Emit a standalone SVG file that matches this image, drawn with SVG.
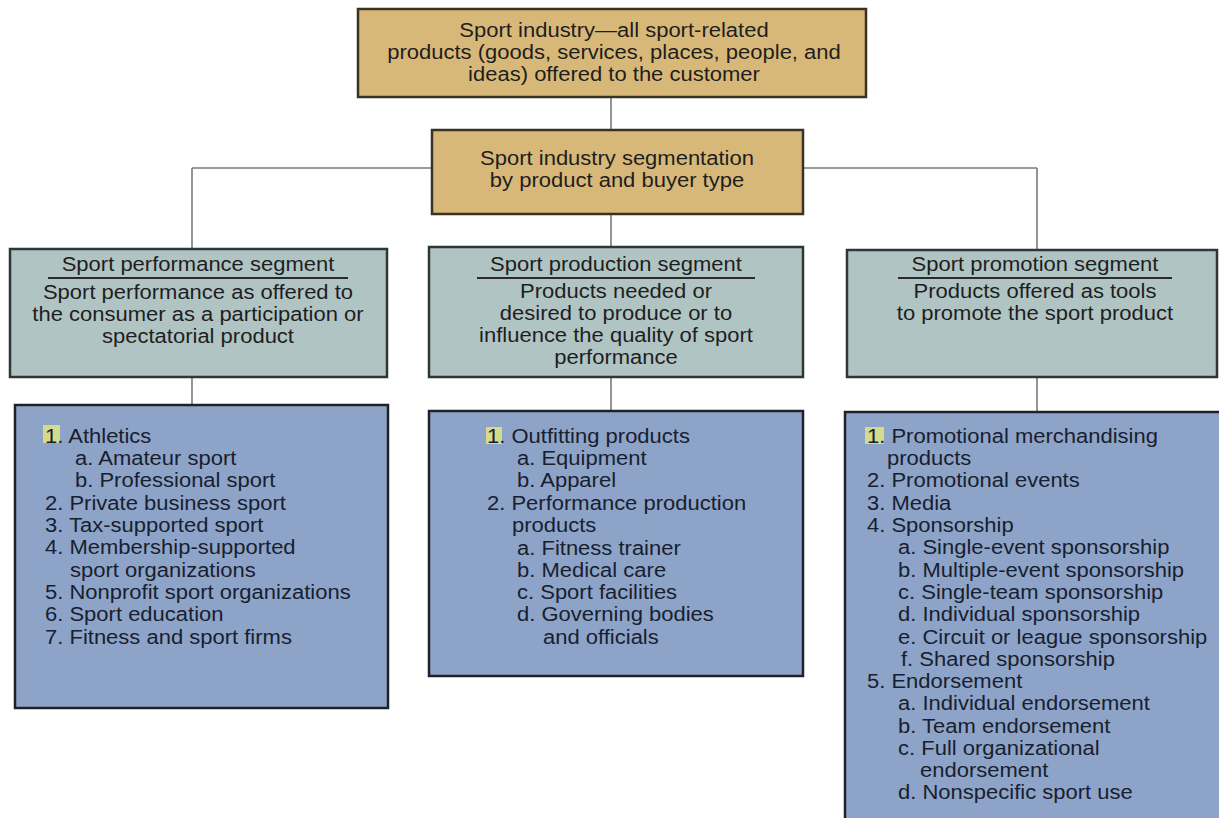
<svg xmlns="http://www.w3.org/2000/svg" width="1219" height="818" viewBox="0 0 1219 818">
<style>
text{font-family:"Liberation Sans",Arial,sans-serif;font-size:19.4px;fill:#1e1e1e}
.c{text-anchor:middle}
.tan{fill:#D8B878;stroke:#3a3226;stroke-width:2.5}
.seg{fill:#B1C4C4;stroke:#2e3636;stroke-width:2.5}
.lst{fill:#8DA4C8;stroke:#1e2228;stroke-width:2.5}
.lt{fill:#18202f}
.hl{fill:#D3DC8C}
.ul{stroke:#2a2a2a;stroke-width:1.8}
.con{stroke:#7a7a7a;stroke-width:1.6;fill:none}
</style>
<rect width="1219" height="818" fill="#ffffff"/>
<g id="connectors">
<line class="con" x1="611" y1="97" x2="611" y2="130"/>
<line class="con" x1="192" y1="168" x2="1037" y2="168"/>
<line class="con" x1="192" y1="168" x2="192" y2="249"/>
<line class="con" x1="611" y1="214" x2="611" y2="247"/>
<line class="con" x1="1037" y1="168" x2="1037" y2="250"/>
<line class="con" x1="192" y1="377" x2="192" y2="405"/>
<line class="con" x1="611" y1="377" x2="611" y2="411"/>
<line class="con" x1="1037" y1="377" x2="1037" y2="412"/>
</g>
<g id="industry">
<rect class="tan" x="358" y="9" width="508" height="88"/>
<text class="c" transform="translate(614 37) scale(1.134 1)">Sport industry—all sport-related</text>
<text class="c" transform="translate(614 59) scale(1.134 1)">products (goods, services, places, people, and</text>
<text class="c" transform="translate(614 81) scale(1.134 1)">ideas) offered to the customer</text>
</g>
<g id="segmentation">
<rect class="tan" x="432" y="130" width="371" height="84"/>
<text class="c" transform="translate(617 165) scale(1.134 1)">Sport industry segmentation</text>
<text class="c" transform="translate(617 187) scale(1.134 1)">by product and buyer type</text>
</g>
<g id="performance">
<rect class="seg" x="10" y="249" width="377" height="128"/>
<text class="c" transform="translate(198 271) scale(1.134 1)">Sport performance segment</text>
<line class="ul" x1="48" y1="278" x2="348" y2="278"/>
<text class="c" transform="translate(198 299) scale(1.134 1)">Sport performance as offered to</text>
<text class="c" transform="translate(198 321) scale(1.134 1)">the consumer as a participation or</text>
<text class="c" transform="translate(198 343) scale(1.134 1)">spectatorial product</text>
</g>
<g id="production">
<rect class="seg" x="429" y="247" width="374" height="130"/>
<text class="c" transform="translate(616 271) scale(1.134 1)">Sport production segment</text>
<line class="ul" x1="477" y1="278" x2="755" y2="278"/>
<text class="c" transform="translate(616 298) scale(1.134 1)">Products needed or</text>
<text class="c" transform="translate(616 320) scale(1.134 1)">desired to produce or to</text>
<text class="c" transform="translate(616 342) scale(1.134 1)">influence the quality of sport</text>
<text class="c" transform="translate(616 364) scale(1.134 1)">performance</text>
</g>
<g id="promotion">
<rect class="seg" x="847" y="250" width="370" height="127"/>
<text class="c" transform="translate(1035 271) scale(1.134 1)">Sport promotion segment</text>
<line class="ul" x1="898" y1="278" x2="1172" y2="278"/>
<text class="c" transform="translate(1035 298) scale(1.134 1)">Products offered as tools</text>
<text class="c" transform="translate(1035 320) scale(1.134 1)">to promote the sport product</text>
</g>
<g id="performance-list">
<rect class="lst" x="15" y="405" width="373" height="303"/>
<rect class="hl" x="43" y="425" width="17" height="18"/>
<text class="lt" transform="translate(45 443) scale(1.134 1)">1. Athletics</text>
<text class="lt" transform="translate(75 465) scale(1.134 1)">a. Amateur sport</text>
<text class="lt" transform="translate(75 487) scale(1.134 1)">b. Professional sport</text>
<text class="lt" transform="translate(45 510) scale(1.134 1)">2. Private business sport</text>
<text class="lt" transform="translate(45 532) scale(1.134 1)">3. Tax-supported sport</text>
<text class="lt" transform="translate(45 554) scale(1.134 1)">4. Membership-supported</text>
<text class="lt" transform="translate(70 577) scale(1.134 1)">sport organizations</text>
<text class="lt" transform="translate(45 599) scale(1.134 1)">5. Nonprofit sport organizations</text>
<text class="lt" transform="translate(45 621) scale(1.134 1)">6. Sport education</text>
<text class="lt" transform="translate(45 644) scale(1.134 1)">7. Fitness and sport firms</text>
</g>
<g id="production-list">
<rect class="lst" x="429" y="411" width="374" height="265"/>
<rect class="hl" x="486" y="427" width="16" height="17"/>
<text class="lt" transform="translate(487 443) scale(1.134 1)">1. Outfitting products</text>
<text class="lt" transform="translate(517 465) scale(1.134 1)">a. Equipment</text>
<text class="lt" transform="translate(517 487) scale(1.134 1)">b. Apparel</text>
<text class="lt" transform="translate(487 510) scale(1.134 1)">2. Performance production</text>
<text class="lt" transform="translate(512 532) scale(1.134 1)">products</text>
<text class="lt" transform="translate(517 555) scale(1.134 1)">a. Fitness trainer</text>
<text class="lt" transform="translate(517 577) scale(1.134 1)">b. Medical care</text>
<text class="lt" transform="translate(517 599) scale(1.134 1)">c. Sport facilities</text>
<text class="lt" transform="translate(517 621) scale(1.134 1)">d. Governing bodies</text>
<text class="lt" transform="translate(543 644) scale(1.134 1)">and officials</text>
</g>
<g id="promotion-list">
<rect class="lst" x="845" y="412" width="380" height="420"/>
<rect class="hl" x="865" y="427" width="19" height="17"/>
<text class="lt" transform="translate(867 443) scale(1.134 1)">1. Promotional merchandising</text>
<text class="lt" transform="translate(887 465) scale(1.134 1)">products</text>
<text class="lt" transform="translate(867 487) scale(1.134 1)">2. Promotional events</text>
<text class="lt" transform="translate(867 510) scale(1.134 1)">3. Media</text>
<text class="lt" transform="translate(867 532) scale(1.134 1)">4. Sponsorship</text>
<text class="lt" transform="translate(898 554) scale(1.134 1)">a. Single-event sponsorship</text>
<text class="lt" transform="translate(898 577) scale(1.134 1)">b. Multiple-event sponsorship</text>
<text class="lt" transform="translate(898 599) scale(1.134 1)">c. Single-team sponsorship</text>
<text class="lt" transform="translate(898 621) scale(1.134 1)">d. Individual sponsorship</text>
<text class="lt" transform="translate(898 644) scale(1.134 1)">e. Circuit or league sponsorship</text>
<text class="lt" transform="translate(901 666) scale(1.134 1)">f. Shared sponsorship</text>
<text class="lt" transform="translate(867 688) scale(1.134 1)">5. Endorsement</text>
<text class="lt" transform="translate(898 710) scale(1.134 1)">a. Individual endorsement</text>
<text class="lt" transform="translate(898 733) scale(1.134 1)">b. Team endorsement</text>
<text class="lt" transform="translate(898 755) scale(1.134 1)">c. Full organizational</text>
<text class="lt" transform="translate(920 777) scale(1.134 1)">endorsement</text>
<text class="lt" transform="translate(898 799) scale(1.134 1)">d. Nonspecific sport use</text>
</g>
</svg>
